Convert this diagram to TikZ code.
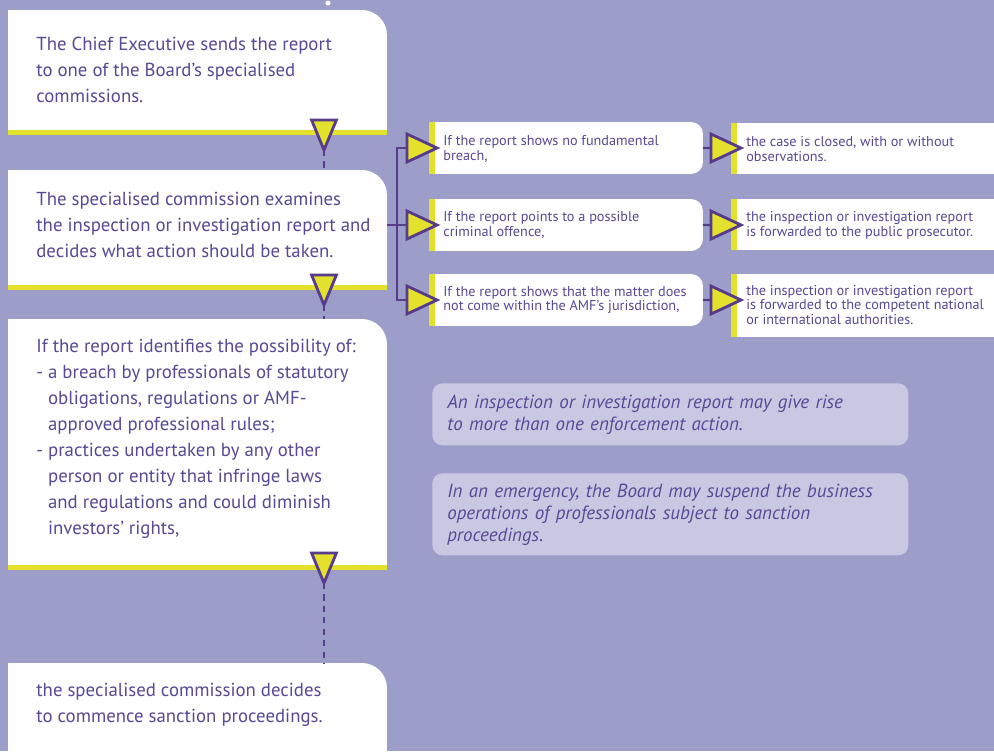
\documentclass[tikz,border=0pt]{standalone}
\usepackage{fontspec}
\setmainfont{PT Sans}
\usepackage{tikz}
\usetikzlibrary{shapes.geometric,positioning,calc}

\definecolor{bgpurple}{RGB}{157,157,201}
\definecolor{txtpurple}{RGB}{88,72,150}
\definecolor{edgepurple}{RGB}{88,60,140}
\definecolor{markyellow}{RGB}{228,225,44}
\definecolor{notefill}{RGB}{200,200,226}

\tikzset{
  stagebox/.style={rectangle, inner sep=0pt, outer sep=0pt, minimum width=7.58cm, anchor=north west},
  casebox/.style={rectangle, inner sep=0pt, outer sep=0pt, minimum width=5.48cm, minimum height=1.04cm, anchor=north west},
  outbox/.style={rectangle, inner sep=0pt, outer sep=0pt, minimum width=5.26cm, anchor=north west},
  bigtext/.style={anchor=west, align=left, inner sep=0pt, text=txtpurple, font=\fontsize{10.7}{14.8}\selectfont},
  smalltext/.style={anchor=west, align=left, inner sep=0pt, text=txtpurple, font=\fontsize{8.1}{8.4}\selectfont},
  notebox/.style={anchor=north west, rounded corners=0.2cm, fill=notefill, minimum width=9.52cm, text width=8.92cm,
    inner xsep=0.3cm, inner ysep=0pt, align=left, text=txtpurple, font=\fontsize{10.8}{12.5}\selectfont\itshape},
  downmark/.style={isosceles triangle, isosceles triangle apex angle=45, shape border rotate=-90, draw=edgepurple,
    fill=markyellow, line width=1.6pt, inner sep=0pt, outer sep=0pt, minimum height=0.6cm, anchor=apex},
  rightmark/.style={downmark, isosceles triangle apex angle=50, shape border rotate=0},
  link/.style={draw=edgepurple, line width=1.3pt},
  dashlink/.style={draw=edgepurple, line width=1pt, dash pattern=on 3.5pt off 3pt},
}

\begin{document}
\begin{tikzpicture}[x=0.02cm, y=-0.02cm]
  \useasboundingbox (0,0) rectangle (994,751);
  \fill[bgpurple] (0,0) rectangle (994,751);
  \fill[white] (328,3) circle (0.05cm);

  % left column
  \node[stagebox, minimum height=2.4cm] (chief) at (8,10) {};
  \node[stagebox, minimum height=2.3cm] (exam) at (8,170) {};
  \node[stagebox, minimum height=4.92cm] (breach) at (8,319) {};
  \node[stagebox, minimum height=1.76cm] (sanction) at (8,663) {};
  \foreach \b in {chief,exam,breach,sanction}{
    \fill[white] (\b.south west) -- (\b.north west) -- ([xshift=-0.5cm]\b.north east)
      arc[start angle=90, end angle=0, radius=0.5cm] -- (\b.south east) -- cycle;
  }
  \foreach \b in {chief,exam,breach}
    \fill[markyellow] (\b.south west) rectangle ++(379,5);

  \node[bigtext] (chieftext) at (36,70) {The Chief Executive sends the report\\to one of the Board's specialised\\commissions.};
  \node[bigtext] (examtext) at (36,225) {The specialised commission examines\\the inspection or investigation report and\\decides what action should be taken.};
  \node[bigtext] (breachtext) at (36,439) {If the report identifies the possibility of:\\
    - a breach by professionals of statutory\\
    \hphantom{-}\ obligations, regulations or AMF-\\
    \hphantom{-}\ approved professional rules;\\
    - practices undertaken by any other\\
    \hphantom{-}\ person or entity that infringe laws\\
    \hphantom{-}\ and regulations and could diminish\\
    \hphantom{-}\ investors' rights,};
  \node[bigtext] (sanctiontext) at (36,705) {the specialised commission decides\\to commence sanction proceedings.};

  % middle column: the cases
  \node[casebox] (case1) at (429,122) {};
  \node[casebox] (case2) at (429,199) {};
  \node[casebox] (case3) at (429,274) {};
  \foreach \b in {case1,case2,case3}{
    \fill[white] (\b.south west) -- (\b.north west) -- ([xshift=-0.24cm]\b.north east)
      arc[start angle=90, end angle=0, radius=0.24cm] -- ([yshift=0.24cm]\b.south east)
      arc[start angle=0, end angle=-90, radius=0.24cm] -- cycle;
    \fill[markyellow] (\b.north west) rectangle ++(6,52);
  }
  \node[smalltext] (case1text) at (443,149) {If the report shows no fundamental\\breach,};
  \node[smalltext] (case2text) at (443,225) {If the report points to a possible\\criminal offence,};
  \node[smalltext] (case3text) at (443,300) {If the report shows that the matter does\\not come within the AMF's jurisdiction,};

  % right column: the outcomes
  \node[outbox, minimum height=1.02cm] (out1) at (731,123) {};
  \node[outbox, minimum height=1.02cm] (out2) at (731,199) {};
  \node[outbox, minimum height=1.26cm] (out3) at (731,274) {};
  \foreach \b in {out1,out2,out3}{
    \fill[white] (\b.north west) rectangle (\b.south east);
    \fill[markyellow] (\b.north west) rectangle ([xshift=0.12cm]\b.south west);
  }
  \node[smalltext] (out1text) at (746,149) {the case is closed, with or without\\observations.};
  \node[smalltext] (out2text) at (746,225) {the inspection or investigation report\\is forwarded to the public prosecutor.};
  \node[smalltext] (out3text) at (746,305) {the inspection or investigation report\\is forwarded to the competent national\\or international authorities.};

  % notes
  \node[notebox, minimum height=1.24cm] (note1) at (432,383) {An inspection or investigation report may give rise\\to more than one enforcement action.};
  \node[notebox, minimum height=1.64cm] (note2) at (432,473) {In an emergency, the Board may suspend the business\\operations of professionals subject to sanction\\proceedings.};

  % markers
  \node[downmark] (drop1) at (324,150) {};
  \node[downmark] (drop2) at (324,305) {};
  \node[downmark] (drop3) at (324,583) {};
  \node[rightmark] (case1in) at (437,148) {};
  \node[rightmark] (case2in) at (437,225) {};
  \node[rightmark] (case3in) at (437,300) {};
  \node[rightmark] (out1in) at (741,148) {};
  \node[rightmark] (out2in) at (741,225) {};
  \node[rightmark] (out3in) at (741,300) {};

  % connectors
  \draw[dashlink] (drop1.apex) -- (drop1.apex |- exam.north);
  \draw[dashlink] (drop2.apex) -- (drop2.apex |- breach.north);
  \draw[dashlink] (drop3.apex) -- (drop3.apex |- sanction.north);
  \coordinate (fork) at (397,225);
  \draw[link] (exam.east |- fork) -- (fork);
  \draw[link] (fork) |- (case1in.west);
  \draw[link] (fork) -- (case2in.west);
  \draw[link] (fork) |- (case3in.west);
  \draw[link] (case1.east) -- (out1in.west);
  \draw[link] (case2.east) -- (out2in.west);
  \draw[link] (case3.east) -- (out3in.west);
\end{tikzpicture}
\end{document}
